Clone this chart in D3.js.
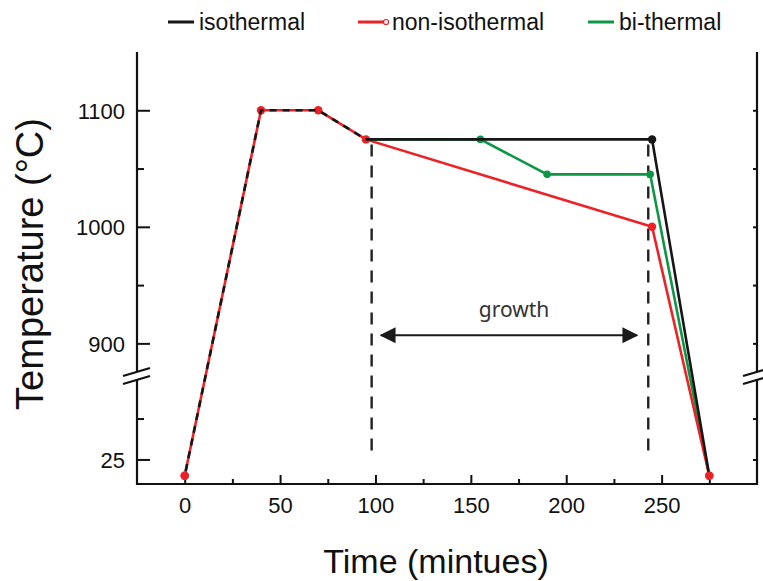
<!DOCTYPE html>
<html>
<head>
<meta charset="utf-8">
<style>
  body { margin: 0; background: #fff; }
  svg { font-family: "Liberation Sans", Arial, sans-serif; }
  .axis .domain { display: none; }
  .axis .tick line { stroke: #111; stroke-width: 2px; }
  .axis .tick text { font-size: 22px; fill: #111; font-family: "Liberation Sans", Arial, sans-serif; }
  .legend text { font-size: 23px; fill: #111; }
</style>
</head>
<body>
<svg width="763" height="581"></svg>
<script src="https://d3js.org/d3.v7.min.js"></script>
<script>
// time (min) and temperature (°C) for the three profiles
let isoTime = [0, 40, 70, 95, 245, 275];
let isoTemp = [15, 1100, 1100, 1075, 1075, 15];
let nonTime = [0, 40, 70, 95, 245, 275];
let nonTemp = [15, 1100, 1100, 1075, 1000, 15];
let biTime = [0, 40, 70, 95, 155, 190, 244, 275];
let biTemp = [15, 1100, 1100, 1075, 1075, 1045, 1045, 15];

let xMajor = [0, 50, 100, 150, 200, 250];
let xMinor = [25, 75, 125, 175, 225, 275];
let yUpperMajor = [900, 1000, 1100];
let yUpperMinor = [950, 1050];
let yLowerMajor = [25];
let yLowerMinor = [50];

let growthStart = 98, growthEnd = 243;
let arrowFrom = 103, arrowTo = 237, arrowTemp = 907;

let legendNames = ["isothermal", "non-isothermal", "bi-thermal"];
let colors = { iso: "#161616", non: "#ec2227", bi: "#0e9647" };

let svg = d3.select("svg");

let pLeft = 137, pRight = 757, pTop = 52, pBottom = 484, breakY = 376;

let x = d3.scaleLinear().domain([-25, 300]).range([pLeft, pRight]);
let yUp = d3.scaleLinear().domain([872, 1150]).range([breakY, pTop]);
let yLo = d3.scaleLinear().domain([10, 76]).range([pBottom, breakY]);
let y = v => v > 500 ? yUp(v) : yLo(v);

// axis lines with breaks
let axisG = svg.append("g").attr("stroke", "#111").attr("stroke-width", 2.2).attr("fill", "none");
axisG.append("line").attr("x1", pLeft).attr("x2", pLeft).attr("y1", pTop).attr("y2", breakY - 4);
axisG.append("line").attr("x1", pLeft).attr("x2", pLeft).attr("y1", breakY + 3).attr("y2", pBottom + 1);
axisG.append("line").attr("x1", pRight).attr("x2", pRight).attr("y1", pTop).attr("y2", breakY - 4);
axisG.append("line").attr("x1", pRight).attr("x2", pRight).attr("y1", breakY + 3).attr("y2", pBottom + 1);
axisG.append("line").attr("x1", pLeft - 1).attr("x2", pRight + 1).attr("y1", pBottom).attr("y2", pBottom);

[pLeft, pRight].forEach(ax => {
  [-4, 4].forEach(off => {
    axisG.append("line")
      .attr("x1", ax - 14).attr("y1", breakY + off + 4)
      .attr("x2", ax + 13).attr("y2", breakY + off - 4);
  });
});

// x axis
svg.append("g").attr("class", "axis")
  .attr("transform", `translate(0,${pBottom})`)
  .call(d3.axisBottom(x).tickValues(xMajor).tickSizeInner(-9).tickSizeOuter(0).tickPadding(13));
svg.append("g").attr("class", "axis")
  .attr("transform", `translate(0,${pBottom})`)
  .call(d3.axisBottom(x).tickValues(xMinor).tickSizeInner(-5).tickSizeOuter(0).tickFormat(""));

// left y axis (two segments)
[[yUp, yUpperMajor, yUpperMinor], [yLo, yLowerMajor, yLowerMinor]].forEach(([sc, maj, mnr]) => {
  svg.append("g").attr("class", "axis")
    .attr("transform", `translate(${pLeft},0)`)
    .call(d3.axisLeft(sc).tickValues(maj).tickFormat(d3.format("d"))
      .tickSizeInner(-13).tickSizeOuter(0).tickPadding(12))
    .selectAll("text").attr("dy", "0.36em");
  svg.append("g").attr("class", "axis")
    .attr("transform", `translate(${pLeft},0)`)
    .call(d3.axisLeft(sc).tickValues(mnr).tickSizeInner(-7).tickSizeOuter(0).tickFormat(""));
  svg.append("g").attr("class", "axis")
    .attr("transform", `translate(${pRight},0)`)
    .call(d3.axisRight(sc).tickValues(maj.concat(mnr)).tickSizeInner(-4).tickSizeOuter(0).tickFormat(""));
});

// growth markers
[growthStart, growthEnd].forEach(t => {
  svg.append("line")
    .attr("x1", x(t)).attr("x2", x(t))
    .attr("y1", yUp(1075) + 5).attr("y2", yLo(25) - 3)
    .attr("stroke", "#222").attr("stroke-width", 2.4)
    .attr("stroke-dasharray", "12,9");
});

let defs = svg.append("defs");
defs.append("marker").attr("id", "ah")
  .attr("viewBox", "0 0 10 10").attr("refX", 9).attr("refY", 5)
  .attr("markerWidth", 8).attr("markerHeight", 8).attr("markerUnits", "strokeWidth")
  .attr("orient", "auto-start-reverse")
  .append("path").attr("d", "M0,0 L10,5 L0,10 z").attr("fill", "#1a1a1a");

svg.append("line")
  .attr("x1", x(arrowFrom)).attr("x2", x(arrowTo))
  .attr("y1", yUp(arrowTemp)).attr("y2", yUp(arrowTemp))
  .attr("stroke", "#1a1a1a").attr("stroke-width", 2)
  .attr("marker-start", "url(#ah)").attr("marker-end", "url(#ah)");

svg.append("text")
  .attr("x", x((arrowFrom + arrowTo) / 2) + 5).attr("y", yUp(arrowTemp) - 18)
  .attr("text-anchor", "middle")
  .style("font-family", "'Noto Sans', Lato, sans-serif")
  .style("font-size", "21px").style("fill", "#333")
  .text("growth");

// series
let line = d3.line().x(d => x(d[0])).y(d => y(d[1]));
let pts = (ts, vs) => ts.map((t, i) => [t, vs[i]]);
let iso = pts(isoTime, isoTemp), non = pts(nonTime, nonTemp), bi = pts(biTime, biTemp);

svg.append("path").attr("d", line(bi.slice(3)))
  .attr("fill", "none").attr("stroke", colors.bi).attr("stroke-width", 2.6);
svg.selectAll(".bidot").data(bi.slice(4, 7)).join("circle")
  .attr("cx", d => x(d[0])).attr("cy", d => y(d[1])).attr("r", 3.8).attr("fill", colors.bi);

svg.append("path").attr("d", line(non))
  .attr("fill", "none").attr("stroke", colors.non).attr("stroke-width", 2.6);
svg.selectAll(".nondot").data(non).join("circle")
  .attr("cx", d => x(d[0])).attr("cy", d => y(d[1])).attr("r", 4.2).attr("fill", colors.non);

// isothermal shares the first part of the profile, drawn dashed over the red one
svg.append("path").attr("d", line(iso.slice(0, 4)))
  .attr("fill", "none").attr("stroke", colors.iso).attr("stroke-width", 2.6)
  .attr("stroke-dasharray", "7,6").attr("stroke-dashoffset", -5);
svg.append("path").attr("d", line(iso.slice(3)))
  .attr("fill", "none").attr("stroke", colors.iso).attr("stroke-width", 2.6).attr("stroke-linejoin", "round");
svg.append("circle").attr("cx", x(iso[4][0])).attr("cy", y(iso[4][1])).attr("r", 4.2).attr("fill", colors.iso);

svg.selectAll(".enddot").data([non[0], non[non.length - 1]]).join("circle")
  .attr("cx", d => x(d[0])).attr("cy", d => y(d[1])).attr("r", 4.2).attr("fill", colors.non);

// axis titles
svg.append("text")
  .attr("x", 436).attr("y", 573).attr("text-anchor", "middle")
  .style("font-size", "34px").style("fill", "#111")
  .text("Time (mintues)");
svg.append("text")
  .attr("transform", "translate(43,264) rotate(-90)").attr("text-anchor", "middle")
  .style("font-size", "38px").style("fill", "#111")
  .text("Temperature (°C)");

// legend
let legend = svg.append("g").attr("class", "legend");
let legX = [168, 358, 588];
let legC = [colors.iso, colors.non, colors.bi];
legendNames.forEach((name, i) => {
  legend.append("line")
    .attr("x1", legX[i]).attr("x2", legX[i] + 26).attr("y1", 22).attr("y2", 22)
    .attr("stroke", legC[i]).attr("stroke-width", 3);
  if (i === 1) {
    legend.append("circle").attr("cx", legX[i] + 28).attr("cy", 22).attr("r", 2.5)
      .attr("fill", "#fff").attr("stroke", legC[i]).attr("stroke-width", 1.2);
  }
  legend.append("text").attr("x", legX[i] + (i === 1 ? 34 : 31)).attr("y", 30).text(name);
});
</script>
</body>
</html>
